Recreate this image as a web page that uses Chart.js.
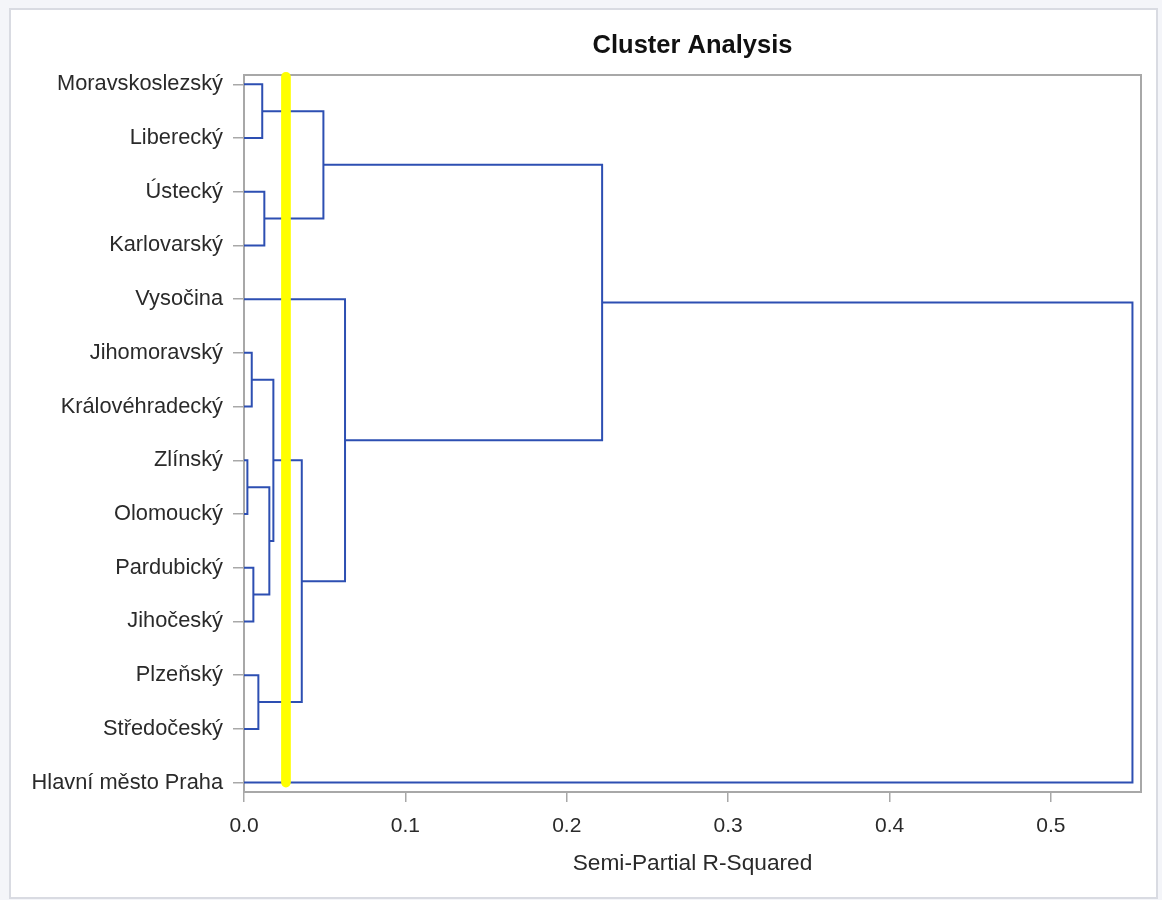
<!DOCTYPE html>
<html>
<head>
<meta charset="utf-8">
<script src="https://cdn.jsdelivr.net/npm/chart.js@4.4.1/dist/chart.umd.min.js"></script>
<style>
  html, body { margin: 0; padding: 0; width: 1162px; height: 900px; overflow: hidden; background: #F4F5F9; }
  #frame { position: absolute; left: 9px; top: 8px; width: 1145px; height: 887px; background: #FFFFFF; border: 2px solid #D9DBE2; }
  #c { position: absolute; left: 0; top: 0; }
</style>
</head>
<body>
<div id="frame"></div>
<canvas id="c" width="1162" height="900"></canvas>
<script>
// ---- Data ----
const chartTitle = 'Cluster Analysis';
const xAxisTitle = 'Semi-Partial R-Squared';
const leaves = [
  'Moravskoslezský', 'Liberecký', 'Ústecký', 'Karlovarský', 'Vysočina',
  'Jihomoravský', 'Královéhradecký', 'Zlínský', 'Olomoucký', 'Pardubický',
  'Jihočeský', 'Plzeňský', 'Středočeský', 'Hlavní město Praha'
];
// Merge steps: node ids 0..13 are leaves, 14+ are clusters formed in this order
const mergeA = [7, 5, 9, 11, 0, 2, 14, 15, 21, 18, 4, 23, 25];
const mergeB = [8, 6, 10, 12, 1, 3, 16, 20, 17, 19, 22, 24, 13];
const mergeHeight = [0.0021, 0.0048, 0.0058, 0.0089, 0.0113, 0.0126, 0.0157, 0.0182, 0.0358, 0.0492, 0.0626, 0.2219, 0.5505];
const cutHeight = [0.026];
const xTicks = [0.0, 0.1, 0.2, 0.3, 0.4, 0.5];

// ---- Build dendrogram link paths ----
const nodeX = leaves.map(() => 0);
const nodeY = leaves.map((_, i) => i);
const linkSets = [];
mergeA.forEach((a, k) => {
  const b = mergeB[k], h = mergeHeight[k];
  linkSets.push({
    data: [
      { x: nodeX[a], y: nodeY[a] },
      { x: h, y: nodeY[a] },
      { x: h, y: nodeY[b] },
      { x: nodeX[b], y: nodeY[b] }
    ],
    showLine: true,
    borderColor: '#2D4FB2',
    borderWidth: 2,
    pointRadius: 0,
    pointHoverRadius: 0,
    tension: 0,
    fill: false,
    order: 1
  });
  nodeX.push(h);
  nodeY.push((nodeY[a] + nodeY[b]) / 2);
});

const cutSet = {
  data: [{ x: cutHeight[0], y: -0.14 }, { x: cutHeight[0], y: 13.0 }],
  showLine: true,
  borderColor: '#FFFF00',
  borderWidth: 9.7,
  borderCapStyle: 'round',
  pointRadius: 0,
  pointHoverRadius: 0,
  clip: false,
  order: 0
};

const FONT = '"Liberation Sans", Arial, Helvetica, sans-serif';

const framePlugin = {
  id: 'frame',
  beforeDatasetsDraw(chart) {
    const { ctx, chartArea: a } = chart;
    ctx.save();
    ctx.strokeStyle = '#A8A8A8';
    ctx.lineWidth = 2;
    ctx.strokeRect(a.left, a.top, a.right - a.left, a.bottom - a.top);
    ctx.restore();
  },
  afterDraw(chart) {
    const { ctx, chartArea: a } = chart;
    ctx.save();
    ctx.font = 'bold 25.5px ' + FONT;
    ctx.fillStyle = '#111111';
    ctx.textAlign = 'center';
    ctx.textBaseline = 'alphabetic';
    ctx.fillText(chartTitle, (a.left + a.right) / 2, 53);
    ctx.restore();
  }
};

new Chart(document.getElementById('c'), {
  type: 'scatter',
  data: { datasets: [cutSet, ...linkSets] },
  options: {
    responsive: false,
    animation: false,
    events: [],
    layout: { padding: { left: 0, right: 21, top: 75, bottom: 0 } },
    plugins: { legend: { display: false }, tooltip: { enabled: false }, title: { display: false } },
    scales: {
      x: {
        type: 'linear',
        position: 'bottom',
        min: 0,
        max: 0.5558,
        afterFit(s) { s.height = 108; },
        afterBuildTicks(s) { s.ticks = xTicks.map(v => ({ value: v })); },
        ticks: {
          callback: v => Number(v).toFixed(1),
          font: { family: FONT, size: 21 },
          color: '#2a2a2a',
          padding: 12,
          maxRotation: 0,
          autoSkip: false
        },
        grid: { drawOnChartArea: false, drawTicks: true, tickLength: 10, color: '#A8A8A8', lineWidth: 1.5 },
        border: { display: false },
        title: {
          display: true,
          text: xAxisTitle,
          font: { family: FONT, size: 22.7 },
          color: '#2a2a2a',
          padding: { top: 0, bottom: 23 }
        }
      },
      y: {
        type: 'linear',
        position: 'left',
        reverse: true,
        min: -0.173,
        max: 13.175,
        afterFit(s) { s.width = 244; },
        afterBuildTicks(s) { s.ticks = leaves.map((_, i) => ({ value: i })); },
        ticks: {
          callback: v => leaves[Math.round(v)],
          font: { family: FONT, size: 21.8 },
          color: '#2a2a2a',
          padding: 10,
          autoSkip: false
        },
        grid: { drawOnChartArea: false, drawTicks: true, tickLength: 11, color: '#A8A8A8', lineWidth: 1.5 },
        border: { display: false }
      }
    }
  },
  plugins: [framePlugin]
});
</script>
</body>
</html>
